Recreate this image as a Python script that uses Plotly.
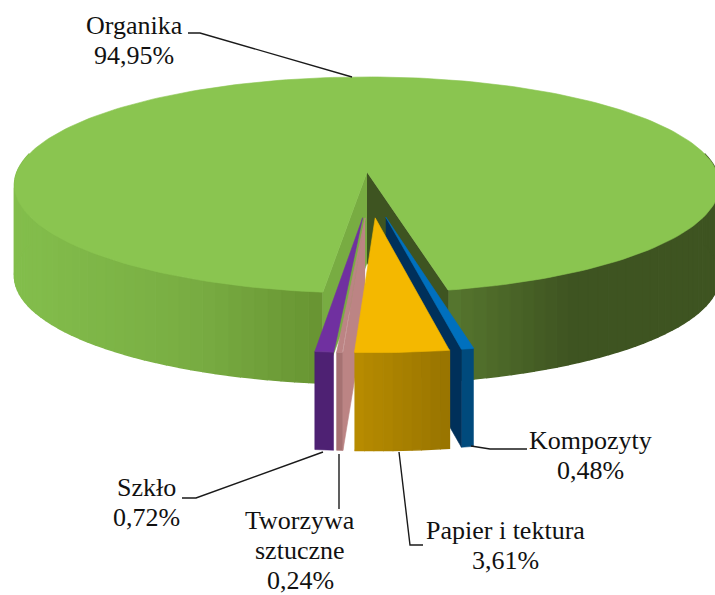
import numpy as np
import plotly.graph_objects as go

# ---------- data ----------
categories = ["Organika", "Kompozyty", "Papier i tektura", "Tworzywa sztuczne", "Szkło"]
values = [94.95, 0.48, 3.61, 0.24, 0.72]

# ---------- styling / geometry ----------
CX, CY, RX, RY, P = 367, 172, 350, 106.5, 0.12
DEPTH_MAIN, DEPTH_SLICE = 91, 98
SLICE_DX = 3           # horizontal nudge of the exploded slices, in pixels
FIRST_EDGE = 11.8      # angle from the front (degrees, right positive) where the slices start
EXPLODE, LATERAL = 0.41, 0.55
TOP = {"Organika": "#8AC550", "Kompozyty": "#0070BE", "Papier i tektura": "#F4B800",
       "Tworzywa sztuczne": "#BC8484", "Szkło": "#7030A0"}
FRONT = {"Kompozyty": "#004A7C", "Tworzywa sztuczne": "#A67272", "Szkło": "#4E2173"}
WALL = {"Kompozyty": "#00305A", "Tworzywa sztuczne": "#BC8484"}
FONT = "Liberation Serif"
FONT_SIZE = 26
LINE_GAP = 30

fig = go.Figure()


def proj(X, Y, dz=0.0, dx=0.0):
    X, Y = np.asarray(X, float), np.asarray(Y, float)
    k = 1 - P * Y
    return CX + dx + RX * X / k, CY + RY * Y / k + dz


def poly(xs, ys, color, lw=0.6):
    fig.add_trace(go.Scatter(x=list(xs), y=list(ys), mode="lines", fill="toself",
                             fillcolor=color, line=dict(color=color, width=lw),
                             hoverinfo="skip", showlegend=False))


def mix(stops, x):
    xp = [s[0] for s in stops]
    ch = [np.interp(x, xp, [s[1][i] for s in stops]) for i in range(3)]
    return "rgb(%d,%d,%d)" % tuple(int(round(c)) for c in ch)


def wedge(a1, a2, ox=0.0, oy=0.0, n=60):
    a = np.radians(np.linspace(a1, a2, n))
    return ox + np.sin(a), oy + np.cos(a)


def strips(a1, a2, depth, ox, oy, stops, n, dx=0.0):
    edges = np.linspace(a1, a2, n + 1)
    for u, v in zip(edges[:-1], edges[1:]):
        X, Y = wedge(u, v, ox, oy, 4)
        tx, ty = proj(X, Y, 0, dx)
        bx, by = proj(X, Y, depth, dx)
        poly(np.r_[tx, bx[::-1]], np.r_[ty, by[::-1]], mix(stops, tx.mean()), lw=1.5)


shares = {c: v / sum(values) * 360 for c, v in zip(categories, values)}
order = categories[1:]
edges = {}
a = FIRST_EDGE
for c in order:
    edges[c] = (a, a - shares[c])
    a -= shares[c]
cut_left, cut_right = a, FIRST_EDGE

# ---------- main slice ----------
left_stops = [(14, (131, 190, 76)), (200, (120, 172, 66)), (320, (104, 148, 50))]
right_stops = [(450, (86, 118, 46)), (570, (62, 84, 33)), (720, (62, 84, 33))]
strips(cut_left, -100, DEPTH_MAIN, 0, 0, left_stops, 46)
strips(cut_right, 100, DEPTH_MAIN, 0, 0, right_stops, 46)

ax, ay = proj(0, 0)
# inner walls of the gap
for edge, col in ((cut_left, "#78AC42"), (cut_right, "#3E5421")):
    X, Y = wedge(edge, edge, n=1)
    ex, ey = proj(X, Y)
    poly([ax, ex[0], ex[0], ax], [ay, ey[0], ey[0] + DEPTH_MAIN, ay + DEPTH_MAIN], col)

X, Y = wedge(cut_right, 360 + cut_left, n=240)
tx, ty = proj(X, Y)
poly(np.r_[ax, tx, ax], np.r_[ay, ty, ay], TOP["Organika"])

# ---------- exploded slices (back to front) ----------
paper_stops = [(355, (184, 140, 0)), (448, (152, 116, 0))]
for c in ["Szkło", "Tworzywa sztuczne", "Kompozyty", "Papier i tektura"]:
    a1, a2 = edges[c]
    b = np.radians((a1 + a2) / 2)
    ox, oy = EXPLODE * np.sin(b) * LATERAL, EXPLODE * np.cos(b)
    px, py = proj(ox, oy, 0, SLICE_DX)
    if c == "Papier i tektura":
        strips(a2, a1, DEPTH_SLICE, ox, oy, paper_stops, 10, SLICE_DX)
    else:
        X, Y = wedge(a1, a2, ox, oy, 6)
        tx, ty = proj(X, Y, 0, SLICE_DX)
        bx, by = proj(X, Y, DEPTH_SLICE, SLICE_DX)
        poly(np.r_[tx, bx[::-1]], np.r_[ty, by[::-1]], FRONT[c])
    if c in WALL:
        edge = a2 if c == "Kompozyty" else a1
        X, Y = wedge(edge, edge, ox, oy, 1)
        ex, ey = proj(X, Y, 0, SLICE_DX)
        poly([px, ex[0], ex[0], px], [py, ey[0], ey[0] + DEPTH_SLICE, py + DEPTH_SLICE], WALL[c])
    X, Y = wedge(a1, a2, ox, oy, 12)
    tx, ty = proj(X, Y, 0, SLICE_DX)
    poly(np.r_[px, tx, px], np.r_[py, ty, py], TOP[c])

# ---------- leader lines ----------
leaders = [
    ([188, 200, 352], [33, 33, 77]),
    ([527, 490, 471], [449, 449, 446]),
    ([182, 196, 323], [498, 498, 452]),
    ([339, 339], [454, 509]),
    ([399, 410, 423], [452, 545, 545]),
]
for lx, ly in leaders:
    fig.add_trace(go.Scatter(x=lx, y=ly, mode="lines", line=dict(color="#1a1a1a", width=1.4),
                             hoverinfo="skip", showlegend=False))

# ---------- labels ----------
label_pos = {"Organika": (134, 25), "Kompozyty": (590, 440), "Papier i tektura": (505, 530),
             "Tworzywa sztuczne": (300, 520), "Szkło": (146, 487)}
for c, v in zip(categories, values):
    lines = c.split(" ") if c == "Tworzywa sztuczne" else [c]
    lines = lines + [f"{v:.2f}".replace(".", ",") + "%"]
    x, y = label_pos[c]
    for i, line in enumerate(lines):
        fig.add_annotation(x=x, y=y + i * LINE_GAP, text=line, showarrow=False, align="center",
                           xanchor="center", yanchor="middle",
                           font=dict(family=FONT, size=FONT_SIZE, color="#111111"))

fig.update_layout(width=715, height=595, margin=dict(l=0, r=0, t=0, b=0),
                  paper_bgcolor="white", plot_bgcolor="white", showlegend=False,
                  xaxis=dict(range=[0, 715], visible=False, fixedrange=True),
                  yaxis=dict(range=[595, 0], visible=False, fixedrange=True))
fig.write_html("out.html", config={"displayModeBar": False},
               post_script="document.body.style.margin='0';document.body.style.overflow='hidden';")
